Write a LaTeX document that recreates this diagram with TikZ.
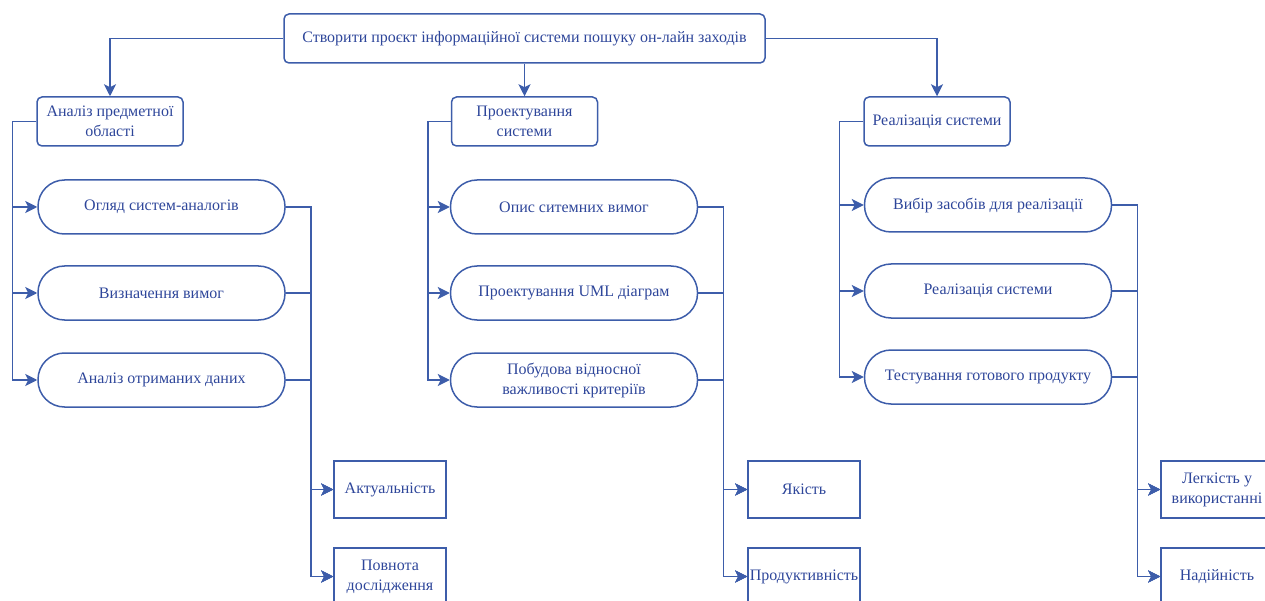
\documentclass[tikz,border=0pt]{standalone}
\usepackage{fontspec}
\setmainfont{Liberation Serif}
\usetikzlibrary{arrows.meta}
\definecolor{ln}{HTML}{3D5DAA}
\definecolor{tx}{HTML}{2E469A}
\tikzset{
  base/.style={draw=ln, line width=1.5pt, text=tx, align=center, inner sep=0pt,
    font=\fontsize{16}{20}\selectfont},
  headbox/.style={base, rounded corners=5pt, minimum width=146pt, minimum height=49pt},
  topbox/.style={base, rounded corners=5pt, minimum width=481pt, minimum height=49pt},
  pill/.style={base, rounded corners=26.5pt, minimum width=247pt, minimum height=54pt},
  critbox/.style={base, minimum width=112pt, minimum height=57pt},
  arr/.style={draw=ln, line width=1.5pt, -{Stealth[length=12pt,width=12pt,inset=3pt]}},
}
\begin{document}
\begin{tikzpicture}[x=1pt,y=-1pt]
\useasboundingbox (0,0) rectangle (1265,601);
\clip (0,0) rectangle (1265,601);
\node[topbox] (top) at (524.5,38.5) {Створити проєкт інформаційної системи пошуку он-лайн заходів};
\node[headbox] (a1) at (110,121.5) {Аналіз предметної\\області};
\node[headbox] (a2) at (524.5,121.5) {Проектування\\системи};
\node[headbox] (a3) at (937,121.5) {Реалізація системи};
\draw[arr] (top.west) -| (a1.north);
\draw[arr] (top.south) -- (a2.north);
\draw[arr] (top.east) -| (a3.north);
% column 1
\node[pill] (p11) at (161.5,207) {Огляд систем-аналогів};
\node[pill] (p12) at (161.5,293) {Визначення вимог};
\node[pill] (p13) at (161.5,380) {Аналіз отриманих даних};
\node[critbox] (c11) at (390,489.5) {Актуальність};
\node[critbox] (c12) at (390,576.5) {Повнота\\дослідження};
% column 2
\node[pill] (p21) at (574,207) {Опис ситемних вимог};
\node[pill] (p22) at (574,293) {Проектування UML діаграм};
\node[pill] (p23) at (574,380) {Побудова відносної\\важливості критеріїв};
\node[critbox] (c21) at (804,489.5) {Якість};
\node[critbox] (c22) at (804,576.5) {Продуктивність};
% column 3
\node[pill] (p31) at (988,205) {Вибір засобів для реалізації};
\node[pill] (p32) at (988,291) {Реалізація системи};
\node[pill] (p33) at (988,377) {Тестування готового продукту};
\node[critbox] (c31) at (1217,489.5) {Легкість у\\використанні};
\node[critbox] (c32) at (1217,576.5) {Надійність};
% left trunks
\foreach \i in {1,2,3}{
  \draw[arr] (a1.west) -- ++(-24,0) |- (p1\i.west);
  \draw[arr] (a2.west) -- ++(-23,0) |- (p2\i.west);
  \draw[arr] (a3.west) -- ++(-24,0) |- (p3\i.west);
}
% right trunks
\foreach \i in {1,2,3}{
  \foreach \j in {1,2}{
    \draw[arr] (p1\i.east) -- ++(25,0) |- (c1\j.west);
    \draw[arr] (p2\i.east) -- ++(25,0) |- (c2\j.west);
    \draw[arr] (p3\i.east) -- ++(25,0) |- (c3\j.west);
  }
}
\end{tikzpicture}
\end{document}
